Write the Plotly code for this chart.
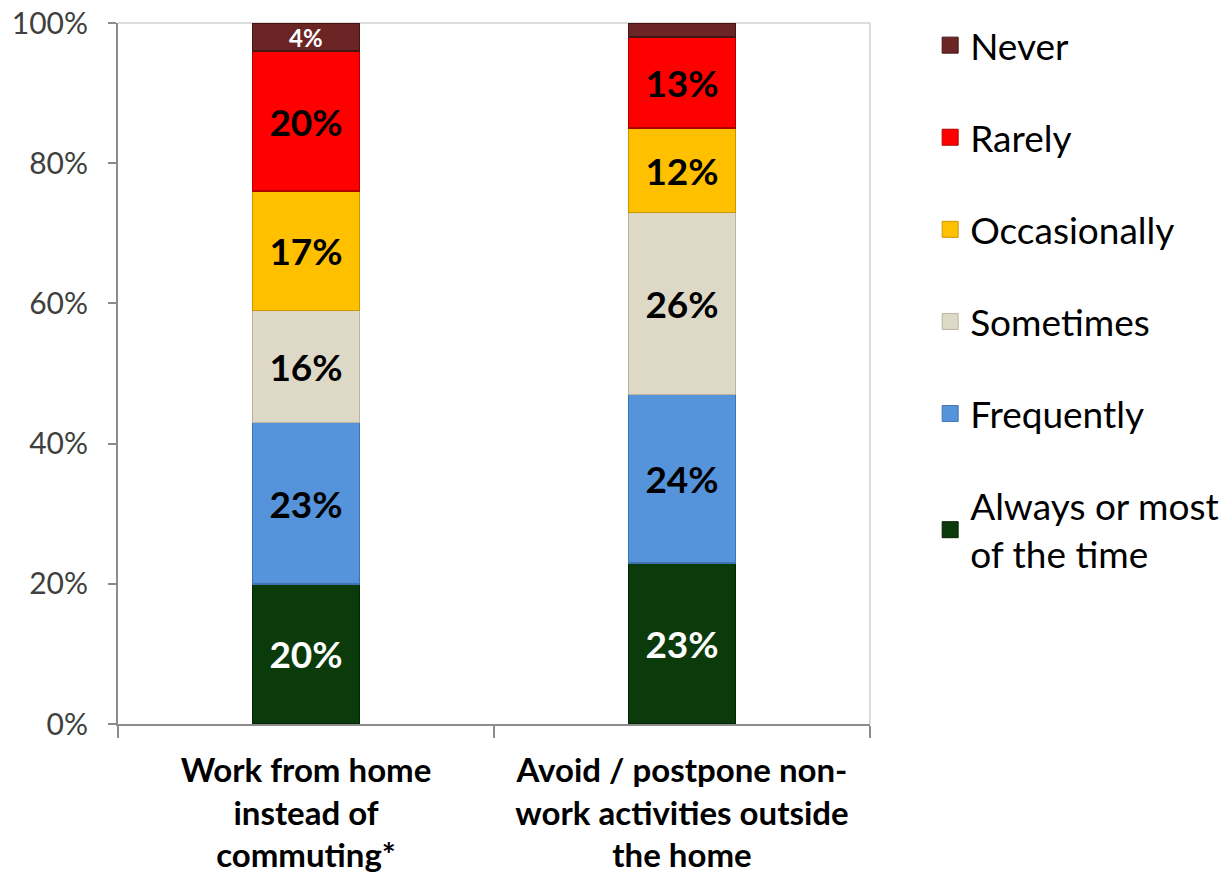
import plotly.graph_objects as go

categories = ["Work from home<br>instead of<br>commuting*",
              "Avoid / postpone non-<br>work activities outside<br>the home"]
series_names = ["Always or most<br>of the time", "Frequently", "Sometimes",
                "Occasionally", "Rarely", "Never"]
always = [20, 23]
frequently = [23, 24]
sometimes = [16, 26]
occasionally = [17, 12]
rarely = [20, 13]
never = [4, 2]
never_labels = ["4%", ""]
tick_vals = [0, 20, 40, 60, 80, 100]
tick_text = ["0%", "20%", "40%", "60%", "80%", "100%"]

values = [always, frequently, sometimes, occasionally, rarely, never]
colors = ["#0B3A0B", "#5593DB", "#DDD9C6", "#FFC000", "#FF0000", "#6B2525"]
line_colors = ["#062406", "#3F74B3", "#B9B5A2", "#C89600", "#B00000", "#451515"]
text_colors = ["white", "black", "black", "black", "black", "white"]

fig = go.Figure()
for i, (name, vals) in enumerate(zip(series_names, values)):
    txt = None if i == 5 else [f"{v}%" for v in vals]
    fig.add_trace(go.Bar(
        x=categories, y=vals, name=name,
        marker=dict(color=colors[i], line=dict(color=line_colors[i], width=1.5)),
        text=txt, textposition="inside" if txt else "none",
        insidetextanchor="middle", textangle=0,
        textfont=dict(color=text_colors[i], size=37,
                      family="Lato", weight="bold"),
        showlegend=False,
        hoverinfo="skip",
    ))

# labels for the thin "Never" segments (too thin for inside text)
for j, cat in enumerate(categories):
    if never_labels[j]:
        below = sum(v[j] for v in values[:5])
        fig.add_annotation(
            x=cat, y=below + never[j] / 2, text=never_labels[j],
            showarrow=False, xref="x", yref="y",
            font=dict(color="white", size=24, family="Lato", weight="bold"),
        )

# legend entries (square swatches)
for i, name in enumerate(series_names):
    fig.add_trace(go.Scatter(
        x=[None], y=[None], mode="markers", name=name,
        marker=dict(symbol="square", size=16, color=colors[i],
                    line=dict(color=line_colors[i], width=1)),
        legendgroup=str(i), legendrank=6 - i, showlegend=True,
        hoverinfo="skip",
    ))

fig.update_layout(
    barmode="stack",
    bargap=0.715,
    width=1232, height=882,
    margin=dict(l=118, r=362, t=23, b=158, autoexpand=False),
    paper_bgcolor="white", plot_bgcolor="white",
    font=dict(family="Lato", color="black"),
    showlegend=True,
    legend=dict(
        x=1.08, y=1.012, xanchor="left", yanchor="top",
        traceorder="grouped", tracegroupgap=41,
        font=dict(size=37, color="black", family="Lato"),
        itemsizing="trace", itemwidth=30,
        bgcolor="rgba(0,0,0,0)", maxheight=870,
    ),
    xaxis=dict(
        showline=True, linecolor="#8C8C8C", linewidth=2,
        ticks="outside", tickson="boundaries", ticklen=12, tickwidth=2,
        tickcolor="#8C8C8C", automargin=False, ticklabelstandoff=16,
        ticklabeloverflow="allow",
        tickfont=dict(size=33, color="black", family="Lato", weight="bold"),
        showgrid=False,
    ),
    yaxis=dict(
        range=[0, 100], tickvals=tick_vals, ticktext=tick_text,
        showline=True, linecolor="#8C8C8C", linewidth=2,
        ticks="outside", ticklen=8, tickwidth=2, tickcolor="#8C8C8C",
        ticklabelstandoff=14, ticklabeloverflow="allow",
        tickfont=dict(size=30, color="#404040", family="Lato"),
        showgrid=False, zeroline=False, automargin=False,
    ),
    shapes=[
        dict(type="line", xref="paper", yref="paper", x0=0, x1=1, y0=1, y1=1,
             line=dict(color="#D0D0D0", width=1.5), layer="below"),
        dict(type="line", xref="paper", yref="paper", x0=1, x1=1, y0=0, y1=1,
             line=dict(color="#D0D0D0", width=1.5), layer="below"),
    ],
)

fig.write_html("out.html", config={"displayModeBar": False},
               post_script="document.body.style.margin='0';")
